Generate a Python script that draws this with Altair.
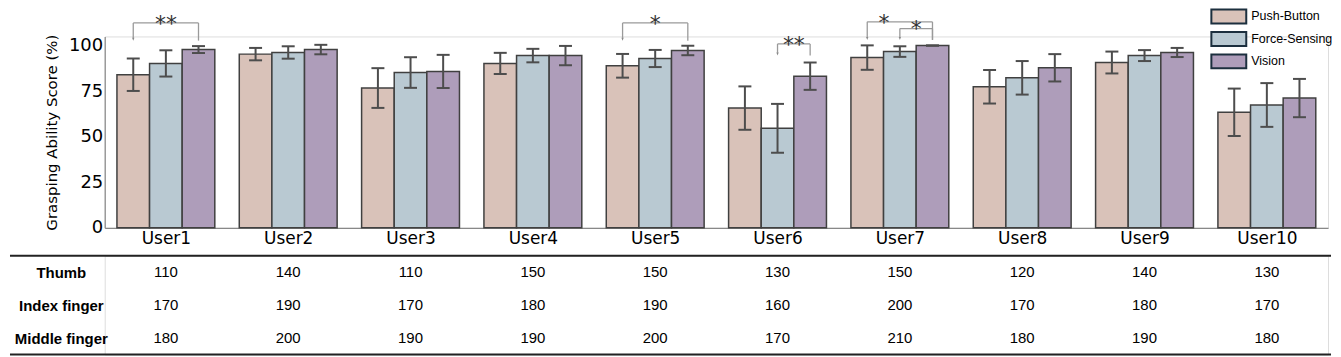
import altair as alt
import pandas as pd

# ---------------- data ----------------
users = [f"User{i}" for i in range(1, 11)]
methods = ["Push-Button", "Force-Sensing", "Vision"]
colors = ["#d9c2b9", "#b9c9d2", "#ae9dba"]

push_mean = [84.0, 95.3, 76.7, 90.2, 88.9, 65.7, 93.4, 77.4, 90.7, 63.4]
push_err = [8.9, 3.4, 10.9, 5.8, 6.5, 11.9, 6.7, 9.2, 6.0, 13.0]
force_mean = [90.2, 96.2, 85.2, 94.5, 92.9, 54.6, 96.7, 82.3, 94.5, 67.4]
force_err = [7.2, 3.4, 8.4, 3.7, 4.7, 13.4, 2.9, 9.2, 3.0, 12.0]
vision_mean = [97.8, 97.8, 85.8, 94.5, 97.3, 83.2, 100.0, 87.8, 96.2, 71.2]
vision_err = [1.9, 2.6, 9.1, 5.3, 2.6, 7.5, 0.0, 7.5, 2.5, 10.5]

table_rows = ["Thumb", "Index finger", "Middle finger"]
thumb = [110, 140, 110, 150, 150, 130, 150, 120, 140, 130]
index_finger = [170, 190, 170, 180, 190, 160, 200, 170, 180, 170]
middle_finger = [180, 200, 190, 190, 200, 170, 210, 180, 190, 180]

# significance brackets (user index, from-method index, to-method index)
sig_user = [0, 4, 5, 6, 6]
sig_from = [0, 0, 1, 0, 1]
sig_to = [2, 2, 2, 2, 2]
sig_level = [112.4, 112.4, 100.9, 113.0, 109.3]
sig_tip = [102.7, 102.7, 94.5, 103.1, 103.1]
sig_text = ["**", "*", "**", "*", "*"]
sig_text_shift = [0.0, 0.0, 0.0, -0.13, 0.0]

# ---------------- style ----------------
BW = 0.8 / 3          # bar width in group units
CAP = 0.053           # half cap width
PW, PH = 1227, 192    # plot area
TH = 99               # table height
LS = "Liberation Sans"
DV = "DejaVu Sans"

xscale = alt.Scale(domain=[-0.5, 9.5], nice=False, zero=False)
yscale = alt.Scale(domain=[0, 105], nice=False)

# ---------------- frames ----------------
rows = []
for k, (m, e) in enumerate([(push_mean, push_err), (force_mean, force_err), (vision_mean, vision_err)]):
    for u in range(len(users)):
        rows.append({"u": u, "user": users[u], "method": methods[k], "k": k, "mean": m[u], "err": e[u]})
bars_df = pd.DataFrame(rows)

sig_df = pd.DataFrame({
    "u": sig_user, "a": sig_from, "b": sig_to, "level": sig_level,
    "tip": sig_tip, "txt": sig_text, "shift": sig_text_shift,
})

trows = []
for name, vals in zip(table_rows, [thumb, index_finger, middle_finger]):
    for u, v in enumerate(vals):
        trows.append({"u": u, "row": name, "value": v})
table_df = pd.DataFrame(trows)

# ---------------- top chart ----------------
base = alt.Chart(bars_df).transform_calculate(
    x0=f"datum.u + (datum.k - 1.5) * {BW}",
    x1=f"datum.u + (datum.k - 0.5) * {BW}",
    xc=f"datum.u + (datum.k - 1) * {BW}",
    c0=f"datum.u + (datum.k - 1) * {BW} - {CAP}",
    c1=f"datum.u + (datum.k - 1) * {BW} + {CAP}",
    lo="datum.mean - datum.err",
    hi="datum.mean + datum.err",
)

# rectangle sitting in the upper half of the legend symbol box
legend_path = "M-1.25,-1H1.25V0H-1.25Z"

bars = base.mark_bar(stroke="#404040", strokeWidth=1.5).encode(
    x=alt.X("x0:Q", scale=xscale, title=None,
            axis=alt.Axis(values=list(range(10)), labelExpr="'User' + (datum.value + 1)",
                          title=None, grid=False, ticks=False, domainColor="#888",
                          domainWidth=1.2, labelFont=DV, labelFontSize=17, labelColor="black",
                          labelPadding=3)),
    x2="x1:Q",
    y=alt.Y("mean:Q", scale=yscale, title="Grasping Ability Score (%)",
            axis=alt.Axis(values=[0, 25, 50, 75, 100], title="Grasping Ability Score (%)",
                          grid=False, ticks=False, domainColor="#888", domainWidth=1.2,
                          labelFont=DV, labelFontSize=18, labelColor="black", labelPadding=2,
                          titleFont=DV, titleFontSize=15, titleFontWeight="normal",
                          titleColor="black", titlePadding=9)),
    y2=alt.datum(0),
    color=alt.Color("method:N", scale=alt.Scale(domain=methods, range=colors),
                    legend=alt.Legend(title=None, orient="none", legendX=1112.5, legendY=-28,
                                      symbolType=legend_path, symbolSize=784,
                                      symbolStrokeColor="#1c2f3e", symbolStrokeWidth=2,
                                      symbolOpacity=1, labelFont=LS,
                                      labelFontSize=12.5, labelColor="black", labelOffset=7.5,
                                      labelBaseline="bottom", rowPadding=0.5, padding=0)),
)

err_v = base.mark_rule(color="#4d4d4d", strokeWidth=2).encode(
    x=alt.X("xc:Q", scale=xscale, title=None), y=alt.Y("lo:Q", scale=yscale), y2="hi:Q")
cap_hi = base.mark_rule(color="#4d4d4d", strokeWidth=2).encode(
    x=alt.X("c0:Q", scale=xscale, title=None), x2="c1:Q", y=alt.Y("hi:Q", scale=yscale))
cap_lo = base.mark_rule(color="#4d4d4d", strokeWidth=2).encode(
    x=alt.X("c0:Q", scale=xscale, title=None), x2="c1:Q", y=alt.Y("lo:Q", scale=yscale))

sig = alt.Chart(sig_df).transform_calculate(
    xl=f"datum.u + (datum.a - 1) * {BW}",
    xr=f"datum.u + (datum.b - 1) * {BW}",
    xm=f"datum.u + (datum.a + datum.b - 2) * {BW} / 2 + datum.shift",
    tipl="datum.tip + 1.5",
)
BR = "#9a9a9a"
br_h = sig.mark_rule(color=BR, strokeWidth=1.3).encode(
    x=alt.X("xl:Q", scale=xscale, title=None), x2="xr:Q", y=alt.Y("level:Q", scale=yscale))
br_l = sig.mark_rule(color=BR, strokeWidth=1.3).encode(
    x=alt.X("xl:Q", scale=xscale, title=None), y=alt.Y("level:Q", scale=yscale), y2="tipl:Q")
br_r = sig.mark_rule(color=BR, strokeWidth=1.3).encode(
    x=alt.X("xr:Q", scale=xscale, title=None), y=alt.Y("level:Q", scale=yscale), y2="tip:Q")
arrow = sig.mark_point(shape="M-0.7,-1.8L0,0L0.7,-1.8Z", size=11, filled=True,
                       color="#888", opacity=1).encode(
    x=alt.X("xl:Q", scale=xscale, title=None), y=alt.Y("tip:Q", scale=yscale))
stars = sig.mark_text(font=DV, fontSize=22, color="#333", baseline="alphabetic",
                      align="center", dy=7.7).encode(
    x=alt.X("xm:Q", scale=xscale, title=None), y=alt.Y("level:Q", scale=yscale),
    text="txt:N")

top = alt.layer(bars, err_v, cap_hi, cap_lo, br_h, br_l, br_r, arrow, stars).properties(
    width=PW, height=PH)

# ---------------- table ----------------
tbl_text = alt.Chart(table_df).mark_text(font=LS, fontSize=15, color="black").encode(
    x=alt.X("u:Q", scale=xscale, axis=None),
    y=alt.Y("row:N", sort=table_rows, scale=alt.Scale(paddingInner=0, paddingOuter=0),
            axis=alt.Axis(title=None, domain=False, ticks=False, labelFont=LS,
                          labelFontWeight="bold", labelFontSize=15, labelColor="black",
                          labelAlign="center", labelBaseline="middle", labelPadding=44)),
    text="value:Q",
)
line_df = pd.DataFrame({"a": [0]})
rule_top = alt.Chart(line_df).mark_rule(color="#222", strokeWidth=2).encode(
    x=alt.value(-95), x2=alt.value(PW + 3), y=alt.value(0))
rule_bot = alt.Chart(line_df).mark_rule(color="#222", strokeWidth=2).encode(
    x=alt.value(-95), x2=alt.value(PW + 3), y=alt.value(TH))

table = alt.layer(tbl_text, rule_top, rule_bot).properties(width=PW, height=TH)

chart = alt.vconcat(top, table, spacing=6).properties(
    padding={"left": 0, "top": 0, "right": 0, "bottom": 0}
).configure_view(stroke=None).configure(background="white")

chart.save("out.html", embed_options={"renderer": "svg", "actions": False})
